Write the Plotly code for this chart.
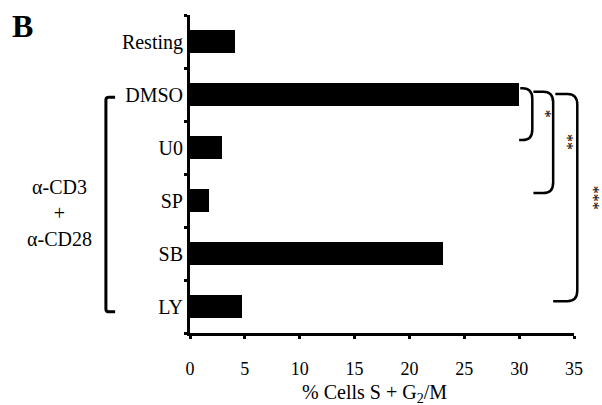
import plotly.graph_objects as go

# ---- data ----
categories = ["Resting", "DMSO", "U0", "SP", "SB", "LY"]
values = [4.1, 30.0, 2.9, 1.7, 23.1, 4.75]
x_ticks = [0, 5, 10, 15, 20, 25, 30, 35]
x_title = "% Cells S + G<sub>2</sub>/M"
group_label = "α-CD3<br>+<br>α-CD28"
group_members = ["DMSO", "U0", "SP", "SB", "LY"]
sig_ref = "DMSO"
sig_targets = ["U0", "SP", "LY"]
sig_labels = ["*", "**", "***"]
panel_label = "B"

FONT = "Liberation Serif"
XMAX = 35
n = len(categories)
ypos = list(range(n))
idx = {c: i for i, c in enumerate(categories)}

def px(xv):
    return xv / XMAX

def py(yv):
    return (n - 0.5 - yv) / n

fig = go.Figure()
fig.add_trace(go.Bar(
    x=values, y=ypos, orientation="h", width=0.42,
    marker=dict(color="black", line=dict(width=0)),
))

# significance brackets
br_left = [30.1, 31.3, 33.3]
br_right = [31.2, 33.1, 35.3]
br_bot_end = [30.0, 31.3, 33.1]
br_top_off = [-0.12, -0.05, -0.01]
br_bot_off = [-0.14, -0.14, -0.10]
star_x = [32.4, 34.4, 36.8]
rx, ry = 0.9, 0.2
shapes = []
annotations = []
for k, tgt in enumerate(sig_targets):
    yt = idx[sig_ref] + br_top_off[k]
    yb = idx[tgt] + br_bot_off[k]
    x0, x1, xe = br_left[k], br_right[k], br_bot_end[k]
    path = (f"M {px(x0)},{py(yt)} L {px(x1 - rx)},{py(yt)} "
            f"Q {px(x1)},{py(yt)} {px(x1)},{py(yt + ry)} "
            f"L {px(x1)},{py(yb - ry)} "
            f"Q {px(x1)},{py(yb)} {px(x1 - rx)},{py(yb)} "
            f"L {px(xe)},{py(yb)}")
    shapes.append(dict(type="path", path=path, xref="paper", yref="paper",
                       line=dict(color="black", width=2.5)))
    annotations.append(dict(
        x=px(star_x[k]), y=py((yt + yb) / 2), xref="paper", yref="paper",
        xanchor="center", yanchor="middle",
        text=sig_labels[k], showarrow=False, textangle=90,
        font=dict(family=FONT, size=16, color="black")))

# left group bracket
gx = -0.219
gx2 = -0.195
gtop = idx[group_members[0]] + 0.05
gbot = idx[group_members[-1]] + 0.1
shapes.append(dict(type="path", xref="paper", yref="paper",
                   path=(f"M {gx2},{py(gtop)} L {gx + 0.008},{py(gtop)} "
                         f"Q {gx},{py(gtop)} {gx},{py(gtop + 0.05)} "
                         f"L {gx},{py(gbot - 0.05)} Q {gx},{py(gbot)} {gx + 0.008},{py(gbot)} "
                         f"L {gx2},{py(gbot)}"),
                   line=dict(color="black", width=3)))
annotations.append(dict(x=-0.339, y=py(3.24), xref="paper", yref="paper",
                        xanchor="center", yanchor="middle",
                        text=group_label, showarrow=False, align="center",
                        font=dict(family=FONT, size=20, color="black")))
annotations.append(dict(x=-0.4375, y=0.965, xref="paper", yref="paper",
                        xanchor="center", yanchor="middle",
                        text=f"<b>{panel_label}</b>", showarrow=False,
                        font=dict(family=FONT, size=32, color="black")))
annotations.append(dict(x=0.48, y=-0.19, xref="paper", yref="paper",
                        xanchor="center", yanchor="middle",
                        text=x_title, showarrow=False,
                        font=dict(family=FONT, size=20, color="black")))

fig.update_layout(
    template="none",
    width=602, height=405,
    margin=dict(l=190, r=28, t=15, b=72, autoexpand=False),
    paper_bgcolor="white", plot_bgcolor="white",
    showlegend=False, bargap=0,
    font=dict(family=FONT, color="black"),
    shapes=shapes, annotations=annotations,
    xaxis=dict(
        range=[0, XMAX], tickvals=x_ticks, ticktext=[str(t) for t in x_ticks],
        showline=True, linecolor="black", linewidth=3, automargin=False,
        ticks="outside", ticklen=3, tickwidth=3, tickcolor="black",
        ticklabelstandoff=14, showgrid=False, zeroline=False,
        tickfont=dict(family=FONT, size=18, color="black"),
    ),
    yaxis=dict(
        range=[n - 0.5, -0.5], tickvals=ypos, ticktext=categories,
        showline=True, linecolor="black", linewidth=3, automargin=False,
        ticks="", showgrid=False, zeroline=False,
        tickfont=dict(family=FONT, size=20, color="black"),
        minor=dict(tickvals=[i - 0.5 for i in range(n + 1)], ticks="outside",
                   ticklen=3, tickwidth=3, tickcolor="black", showgrid=False),
    ),
)

fig.write_html("out.html")
